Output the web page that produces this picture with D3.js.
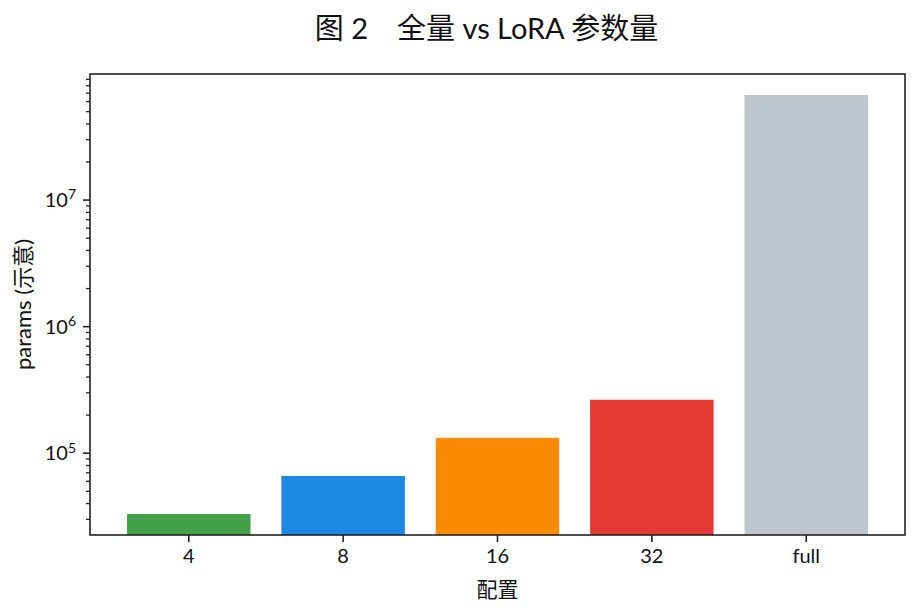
<!DOCTYPE html>
<html>
<head>
<meta charset="utf-8">
<script src="https://cdn.jsdelivr.net/npm/d3@7"></script>
<style>
  body { margin: 0; background: #fff; }
  svg text { font-family: Lato, "Noto Sans CJK SC", sans-serif; fill: #111; }
</style>
</head>
<body>
<div id="chart"></div>
<script>
// data (log scale)
var categories = ['4', '8', '16', '32', 'full'];
var paramValues = [32768, 65536, 131072, 262144, 67108864];
var barColors = ['#43a047', '#1e88e5', '#fb8c00', '#e53935', '#bdc6cc'];
var majorTicks = [1e5, 1e6, 1e7];

var chartTitle = '图 2\u3000全量 vs LoRA 参数量';
var xLabel = '配置';
var yLabel = 'params (示意)';

var width = 920, height = 614;
// plot box (window.top is read-only, so avoid "top")
var plotLeft = 90, plotRight = 905, plotTop = 74, plotBottom = 535;

var svg = d3.select('#chart').append('svg')
    .attr('width', width)
    .attr('height', height);

// log domain with 5% margins in log space (like matplotlib)
var lo = Math.log10(d3.min(paramValues)),
    hi = Math.log10(d3.max(paramValues)),
    pad = (hi - lo) * 0.05;

var y = d3.scaleLog()
    .domain([Math.pow(10, lo - pad), Math.pow(10, hi + pad)])
    .range([plotBottom, plotTop]);

var x = d3.scaleBand()
    .domain(categories)
    .range([plotLeft, plotRight])
    .paddingInner(0.2)
    .paddingOuter(0.24);

// bars
svg.append('g').selectAll('rect')
    .data(categories)
    .enter().append('rect')
    .attr('x', function (d) { return x(d); })
    .attr('width', x.bandwidth())
    .attr('y', function (d, i) { return y(paramValues[i]); })
    .attr('height', function (d, i) { return plotBottom - y(paramValues[i]); })
    .attr('fill', function (d, i) { return barColors[i]; });

// minor ticks 2..9 per decade
var dom = y.domain(), minorTicks = [];
for (var e = Math.floor(Math.log10(dom[0])); e <= Math.ceil(Math.log10(dom[1])); e++) {
    for (var m = 2; m <= 9; m++) {
        var v = m * Math.pow(10, e);
        if (v >= dom[0] && v <= dom[1]) minorTicks.push(v);
    }
}

var yMinor = d3.axisLeft(y).tickValues(minorTicks).tickSize(4).tickFormat('');
svg.append('g')
    .attr('transform', 'translate(' + plotLeft + ',0)')
    .call(yMinor)
    .call(function (g) { g.select('.domain').remove(); })
    .selectAll('line').attr('stroke', '#222').attr('stroke-width', 1.3);

var yMajor = d3.axisLeft(y).tickValues(majorTicks).tickSize(7).tickPadding(7).tickFormat('');
var yg = svg.append('g')
    .attr('transform', 'translate(' + plotLeft + ',0)')
    .call(yMajor);
yg.select('.domain').remove();
yg.selectAll('line').attr('stroke', '#222').attr('stroke-width', 1.6);
yg.selectAll('.tick text').each(function (d) {
    var t = d3.select(this)
        .attr('font-size', 20)
        .attr('dy', '0.35em')
        .attr('x', -14);
    t.append('tspan').text('10');
    t.append('tspan')
        .attr('dy', '-0.55em')
        .attr('font-size', 14)
        .text(Math.round(Math.log10(d)));
});

// x axis
var xg = svg.append('g')
    .attr('transform', 'translate(0,' + plotBottom + ')')
    .call(d3.axisBottom(x).tickSize(7).tickPadding(7));
xg.select('.domain').remove();
xg.selectAll('line').attr('stroke', '#222').attr('stroke-width', 1.6);
xg.selectAll('text').attr('font-size', 20).attr('dy', '0.71em');

// frame
svg.append('rect')
    .attr('x', plotLeft).attr('y', plotTop)
    .attr('width', plotRight - plotLeft).attr('height', plotBottom - plotTop)
    .attr('fill', 'none')
    .attr('stroke', '#222')
    .attr('stroke-width', 1.6);

// labels
svg.append('text')
    .attr('x', (plotLeft + plotRight) / 2 - 11)
    .attr('y', 39)
    .attr('text-anchor', 'middle')
    .attr('font-size', 29)
    .text(chartTitle);

svg.append('text')
    .attr('x', (plotLeft + plotRight) / 2)
    .attr('y', 597)
    .attr('text-anchor', 'middle')
    .attr('font-size', 21)
    .text(xLabel);

svg.append('text')
    .attr('transform', 'translate(31,' + ((plotTop + plotBottom) / 2) + ') rotate(-90)')
    .attr('text-anchor', 'middle')
    .attr('font-size', 22)
    .text(yLabel);
</script>
</body>
</html>
